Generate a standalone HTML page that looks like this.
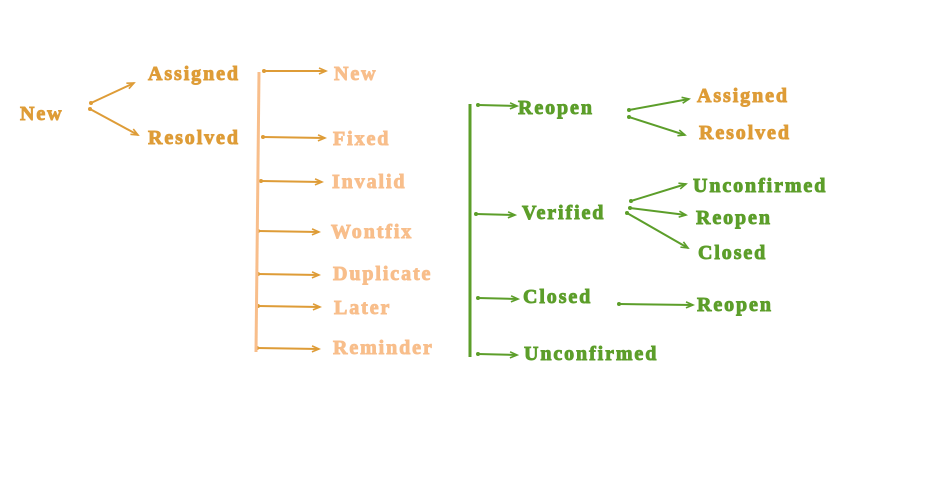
<!DOCTYPE html>
<html><head><meta charset="utf-8"><style>
html,body{margin:0;padding:0;background:#fff;}
svg{display:block}
text{font-family:"Liberation Serif",serif;font-weight:bold;font-size:20px;letter-spacing:1.9px;stroke-width:0.9px;}
.o{fill:#DE9C37;stroke:#DE9C37}.p{fill:#F8BE8B;stroke:#F8BE8B}.g{fill:#5C9E2A;stroke:#5C9E2A}
</style></head><body>
<svg width="926" height="500" viewBox="0 0 926 500" xmlns="http://www.w3.org/2000/svg">
<defs>
<marker id="ao" markerWidth="10" markerHeight="10" refX="8" refY="4" orient="auto" markerUnits="userSpaceOnUse"><path d="M1,1 L8,4 L1,7" fill="none" stroke="#DE9C37" stroke-width="1.6"/></marker>
<marker id="ag" markerWidth="10" markerHeight="10" refX="8" refY="4" orient="auto" markerUnits="userSpaceOnUse"><path d="M1,1 L8,4 L1,7" fill="none" stroke="#5C9E2A" stroke-width="1.6"/></marker>
<marker id="do" markerWidth="6" markerHeight="6" refX="3" refY="3" markerUnits="userSpaceOnUse"><circle cx="3" cy="3" r="2" fill="#DE9C37"/></marker>
<marker id="dg" markerWidth="6" markerHeight="6" refX="3" refY="3" markerUnits="userSpaceOnUse"><circle cx="3" cy="3" r="2" fill="#5C9E2A"/></marker>
</defs>
<g stroke="#DE9C37" stroke-width="2" fill="none" marker-end="url(#ao)" marker-start="url(#do)">
<line x1="91" y1="103" x2="134" y2="83"/>
<line x1="90" y1="109" x2="138" y2="135"/>
<line x1="264" y1="71" x2="326" y2="71"/>
<line x1="263" y1="137" x2="325" y2="138"/>
<line x1="261" y1="181" x2="322" y2="182"/>
<line x1="258" y1="231" x2="319" y2="232"/>
<line x1="258" y1="274" x2="319" y2="275"/>
<line x1="258" y1="306" x2="320" y2="307"/>
<line x1="257" y1="348" x2="319" y2="349"/>
</g>
<line x1="259" y1="72" x2="256" y2="352" stroke="#F8BE8B" stroke-width="3"/>
<line x1="470" y1="104" x2="470" y2="357" stroke="#5C9E2A" stroke-width="3"/>
<g stroke="#5C9E2A" stroke-width="2" fill="none" marker-end="url(#ag)" marker-start="url(#dg)">
<line x1="478" y1="105" x2="517" y2="106"/>
<line x1="476" y1="214" x2="515" y2="215"/>
<line x1="478" y1="298" x2="518" y2="299"/>
<line x1="478" y1="354" x2="517" y2="355"/>
<line x1="629" y1="110" x2="689" y2="99"/>
<line x1="629" y1="117" x2="685" y2="135"/>
<line x1="631" y1="201" x2="686" y2="184"/>
<line x1="630" y1="208" x2="686" y2="215"/>
<line x1="627" y1="213" x2="688" y2="248"/>
<line x1="619" y1="304" x2="693" y2="305"/>
</g>
<text class="o" x="20" y="120">New</text>
<text class="o" x="148" y="80">Assigned</text>
<text class="o" x="148" y="144">Resolved</text>
<text class="p" x="334" y="80">New</text>
<text class="p" x="333" y="145">Fixed</text>
<text class="p" x="332" y="188">Invalid</text>
<text class="p" x="331" y="238">Wontfix</text>
<text class="p" x="333" y="280">Duplicate</text>
<text class="p" x="334" y="314">Later</text>
<text class="p" x="333" y="354">Reminder</text>
<text class="g" x="518" y="114">Reopen</text>
<text class="g" x="522" y="219">Verified</text>
<text class="g" x="523" y="303">Closed</text>
<text class="g" x="524" y="360">Unconfirmed</text>
<text class="o" x="697" y="102">Assigned</text>
<text class="o" x="699" y="139">Resolved</text>
<text class="g" x="693" y="192">Unconfirmed</text>
<text class="g" x="696" y="224">Reopen</text>
<text class="g" x="698" y="259">Closed</text>
<text class="g" x="697" y="311">Reopen</text>
</svg>
</body></html>
